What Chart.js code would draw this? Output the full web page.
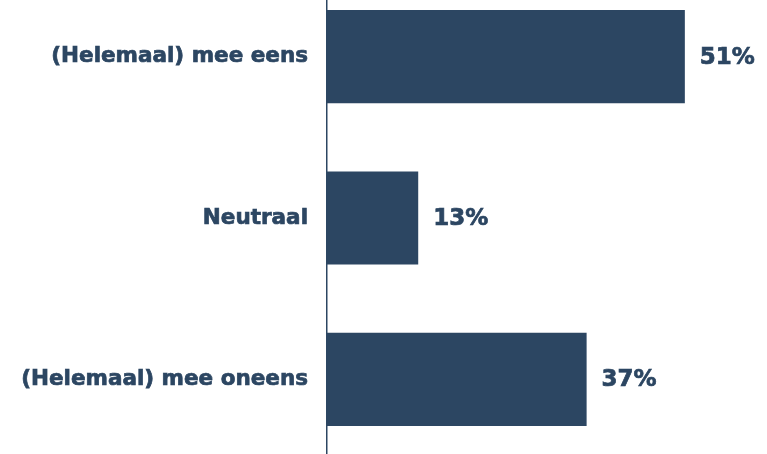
<!DOCTYPE html>
<html lang="nl">
<head>
<meta charset="utf-8">
<title>Mee eens / oneens</title>
<script src="https://cdn.jsdelivr.net/npm/chart.js@4"></script>
<style>
  html, body { margin: 0; padding: 0; background: #fff; overflow: hidden; }
  body { width: 767px; height: 454px; position: relative; }
  /* band of the chart runs a bit past the page edges, like the original layout */
  #wrap { position: absolute; left: 0; top: -24px; width: 767px; height: 484px; }
</style>
</head>
<body>
<div id="wrap"><canvas id="agreeChart"></canvas></div>
<script>
const categories = ['(Helemaal) mee eens', 'Neutraal', '(Helemaal) mee oneens'];
const percentages = [51, 13, 37];

const NAVY = '#2c4662';
const FONT = "'DejaVu Sans', Verdana, sans-serif";

// value labels to the right of each bar
const valueLabels = {
  id: 'valueLabels',
  afterDatasetsDraw(chart) {
    const ctx = chart.ctx;
    const meta = chart.getDatasetMeta(0);
    ctx.save();
    ctx.fillStyle = NAVY;
    ctx.strokeStyle = NAVY;
    ctx.lineWidth = 0.7;
    ctx.font = `bold 23px ${FONT}`;
    ctx.textAlign = 'left';
    ctx.textBaseline = 'middle';
    meta.data.forEach((bar, i) => {
      const txt = percentages[i] + '%';
      ctx.fillText(txt, bar.x + 15, bar.y + 1);
      ctx.strokeText(txt, bar.x + 15, bar.y + 1);
    });
    ctx.restore();
  }
};

const ctx = document.getElementById('agreeChart').getContext('2d');
new Chart(ctx, {
  type: 'bar',
  data: {
    labels: categories,
    datasets: [{
      data: percentages,
      backgroundColor: NAVY,
      borderWidth: 0,
      categoryPercentage: 1,
      barPercentage: 0.577
    }]
  },
  options: {
    indexAxis: 'y',
    responsive: true,
    maintainAspectRatio: false,
    animation: false,
    layout: { padding: { left: 0, right: 19, top: 0, bottom: 0 } },
    plugins: {
      legend: { display: false },
      tooltip: { enabled: false }
    },
    scales: {
      x: {
        display: false,
        min: 0,
        max: 60
      },
      y: {
        grid: { display: false },
        border: { display: true, color: NAVY, width: 1.5 },
        ticks: {
          color: NAVY,
          padding: 11,
          textStrokeColor: NAVY,
          textStrokeWidth: 0.7,
          font: { family: FONT, size: 21.5, weight: 'bold' }
        },
        afterFit(scale) {
          scale.width = 327;
          // tick padding shouldn't eat vertical room
          scale.paddingTop = 0;
          scale.paddingBottom = 0;
        }
      }
    }
  },
  plugins: [valueLabels]
});
</script>
</body>
</html>
